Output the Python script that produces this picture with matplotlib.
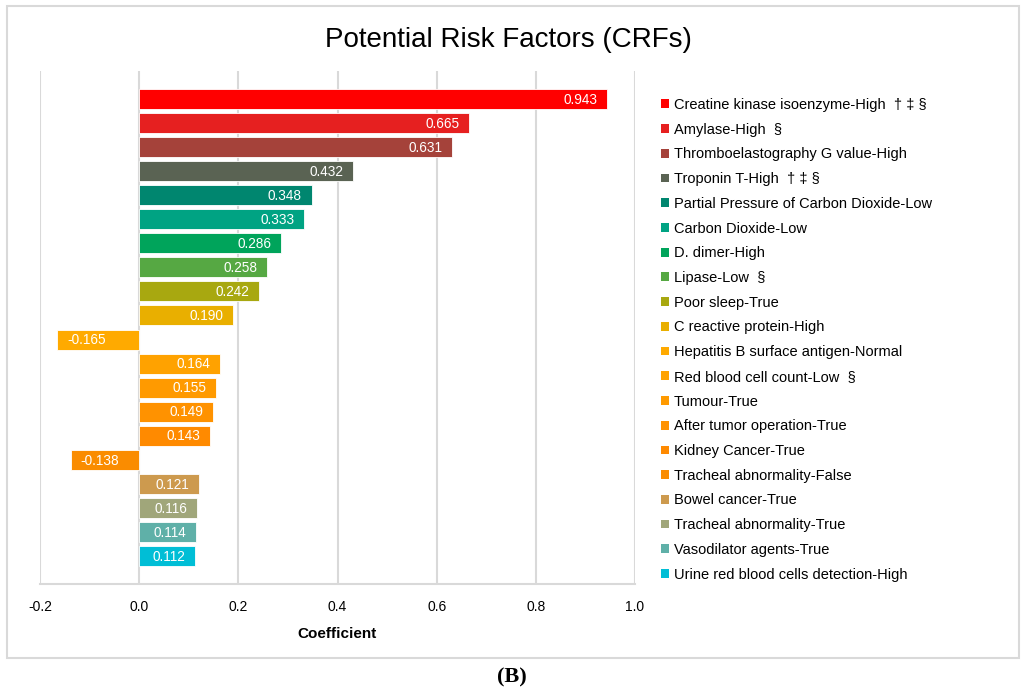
import matplotlib
matplotlib.use('Agg')
import matplotlib.pyplot as plt
from matplotlib.patches import Patch, Rectangle
import numpy as np

plt.rcParams['font.family'] = ['Liberation Sans', 'DejaVu Sans']

# Data (top to bottom)
factors = [
    'Creatine kinase isoenzyme-High  \u2020 \u2021 \u00a7',
    'Amylase-High  \u00a7',
    'Thromboelastography G value-High',
    'Troponin T-High  \u2020 \u2021 \u00a7',
    'Partial Pressure of Carbon Dioxide-Low',
    'Carbon Dioxide-Low',
    'D. dimer-High',
    'Lipase-Low  \u00a7',
    'Poor sleep-True',
    'C reactive protein-High',
    'Hepatitis B surface antigen-Normal',
    'Red blood cell count-Low  \u00a7',
    'Tumour-True',
    'After tumor operation-True',
    'Kidney Cancer-True',
    'Tracheal abnormality-False',
    'Bowel cancer-True',
    'Tracheal abnormality-True',
    'Vasodilator agents-True',
    'Urine red blood cells detection-High',
]
coefficients = [0.943, 0.665, 0.631, 0.432, 0.348, 0.333, 0.286, 0.258, 0.242, 0.190,
                -0.165, 0.164, 0.155, 0.149, 0.143, -0.138, 0.121, 0.116, 0.114, 0.112]
colors = ['#FF0000', '#E62020', '#A5423A', '#5A6353', '#00866F', '#00A383', '#00A45B',
          '#56A843', '#A8A810', '#E9AF00', '#FFAA00', '#FFA200', '#FF9A00', '#FF9200',
          '#FF8A00', '#FA8C00', '#CD9A4E', '#A0A67A', '#5FB0A8', '#00BED6']
x_ticks = [-0.2, 0.0, 0.2, 0.4, 0.6, 0.8, 1.0]

fig = plt.figure(figsize=(10.24, 6.95), dpi=100)
ax = fig.add_axes([40 / 1024, 1 - 584 / 695, (635 - 40) / 1024, (584 - 71) / 695])

y = np.arange(len(factors))
ax.barh(y, coefficients, height=0.83, color=colors, edgecolor='white', linewidth=0.6, zorder=3)

# Value labels inside the bars
for yi, v in zip(y, coefficients):
    if v >= 0:
        ax.annotate(f'{v:.3f}', (v, yi), xytext=(-7, -0.5), textcoords='offset points',
                    ha='right', va='center', color='white', fontsize=9.8, zorder=4)
    else:
        ax.annotate(f'{v:.3f}', (v, yi), xytext=(7, -0.5), textcoords='offset points',
                    ha='left', va='center', color='white', fontsize=9.8, zorder=4)

ax.set_xlim(-0.2, 1.0)
ax.set_ylim(len(factors) - 1 + 1.16, -1.16)
ax.set_xticks(x_ticks)
ax.set_xticklabels([f'{t:.1f}' for t in x_ticks], fontsize=10)
ax.set_yticks([])
ax.tick_params(axis='x', length=0, pad=11.5)
ax.grid(True, axis='x', color='#d9d9d9', linewidth=1.5, zorder=0)
for side in ['top', 'right', 'left']:
    ax.spines[side].set_visible(False)
ax.spines['bottom'].set_color('#d9d9d9')
ax.spines['bottom'].set_linewidth(1.5)
ax.set_xlabel('Coefficient', fontsize=11, fontweight='bold', labelpad=9.5)

# Legend
handles = [Patch(facecolor=c, edgecolor='none') for c in colors]
fig.legend(handles, factors, loc='upper left', bbox_to_anchor=(661 / 1024, 1 - 98 / 695),
           frameon=False, fontsize=10.5, handlelength=0.55, handleheight=0.55,
           handletextpad=0.35, labelspacing=0.735, borderpad=0, borderaxespad=0)

fig.suptitle('Potential Risk Factors (CRFs)', fontsize=20, x=508 / 1024, y=1 - 40 / 695, va='center')

# Outer frame and panel label
fig.patches.append(Rectangle((7 / 1024, 1 - 658 / 695), (1019 - 7) / 1024, (658 - 6) / 695,
                             transform=fig.transFigure, fill=False, edgecolor='#d9d9d9', linewidth=1.5))
fig.text(512 / 1024, 1 - 677 / 695, '(B)', fontsize=16, fontweight='bold',
         family=['Liberation Serif', 'DejaVu Serif'], ha='center', va='center')

fig.savefig('out.png', dpi=100)
